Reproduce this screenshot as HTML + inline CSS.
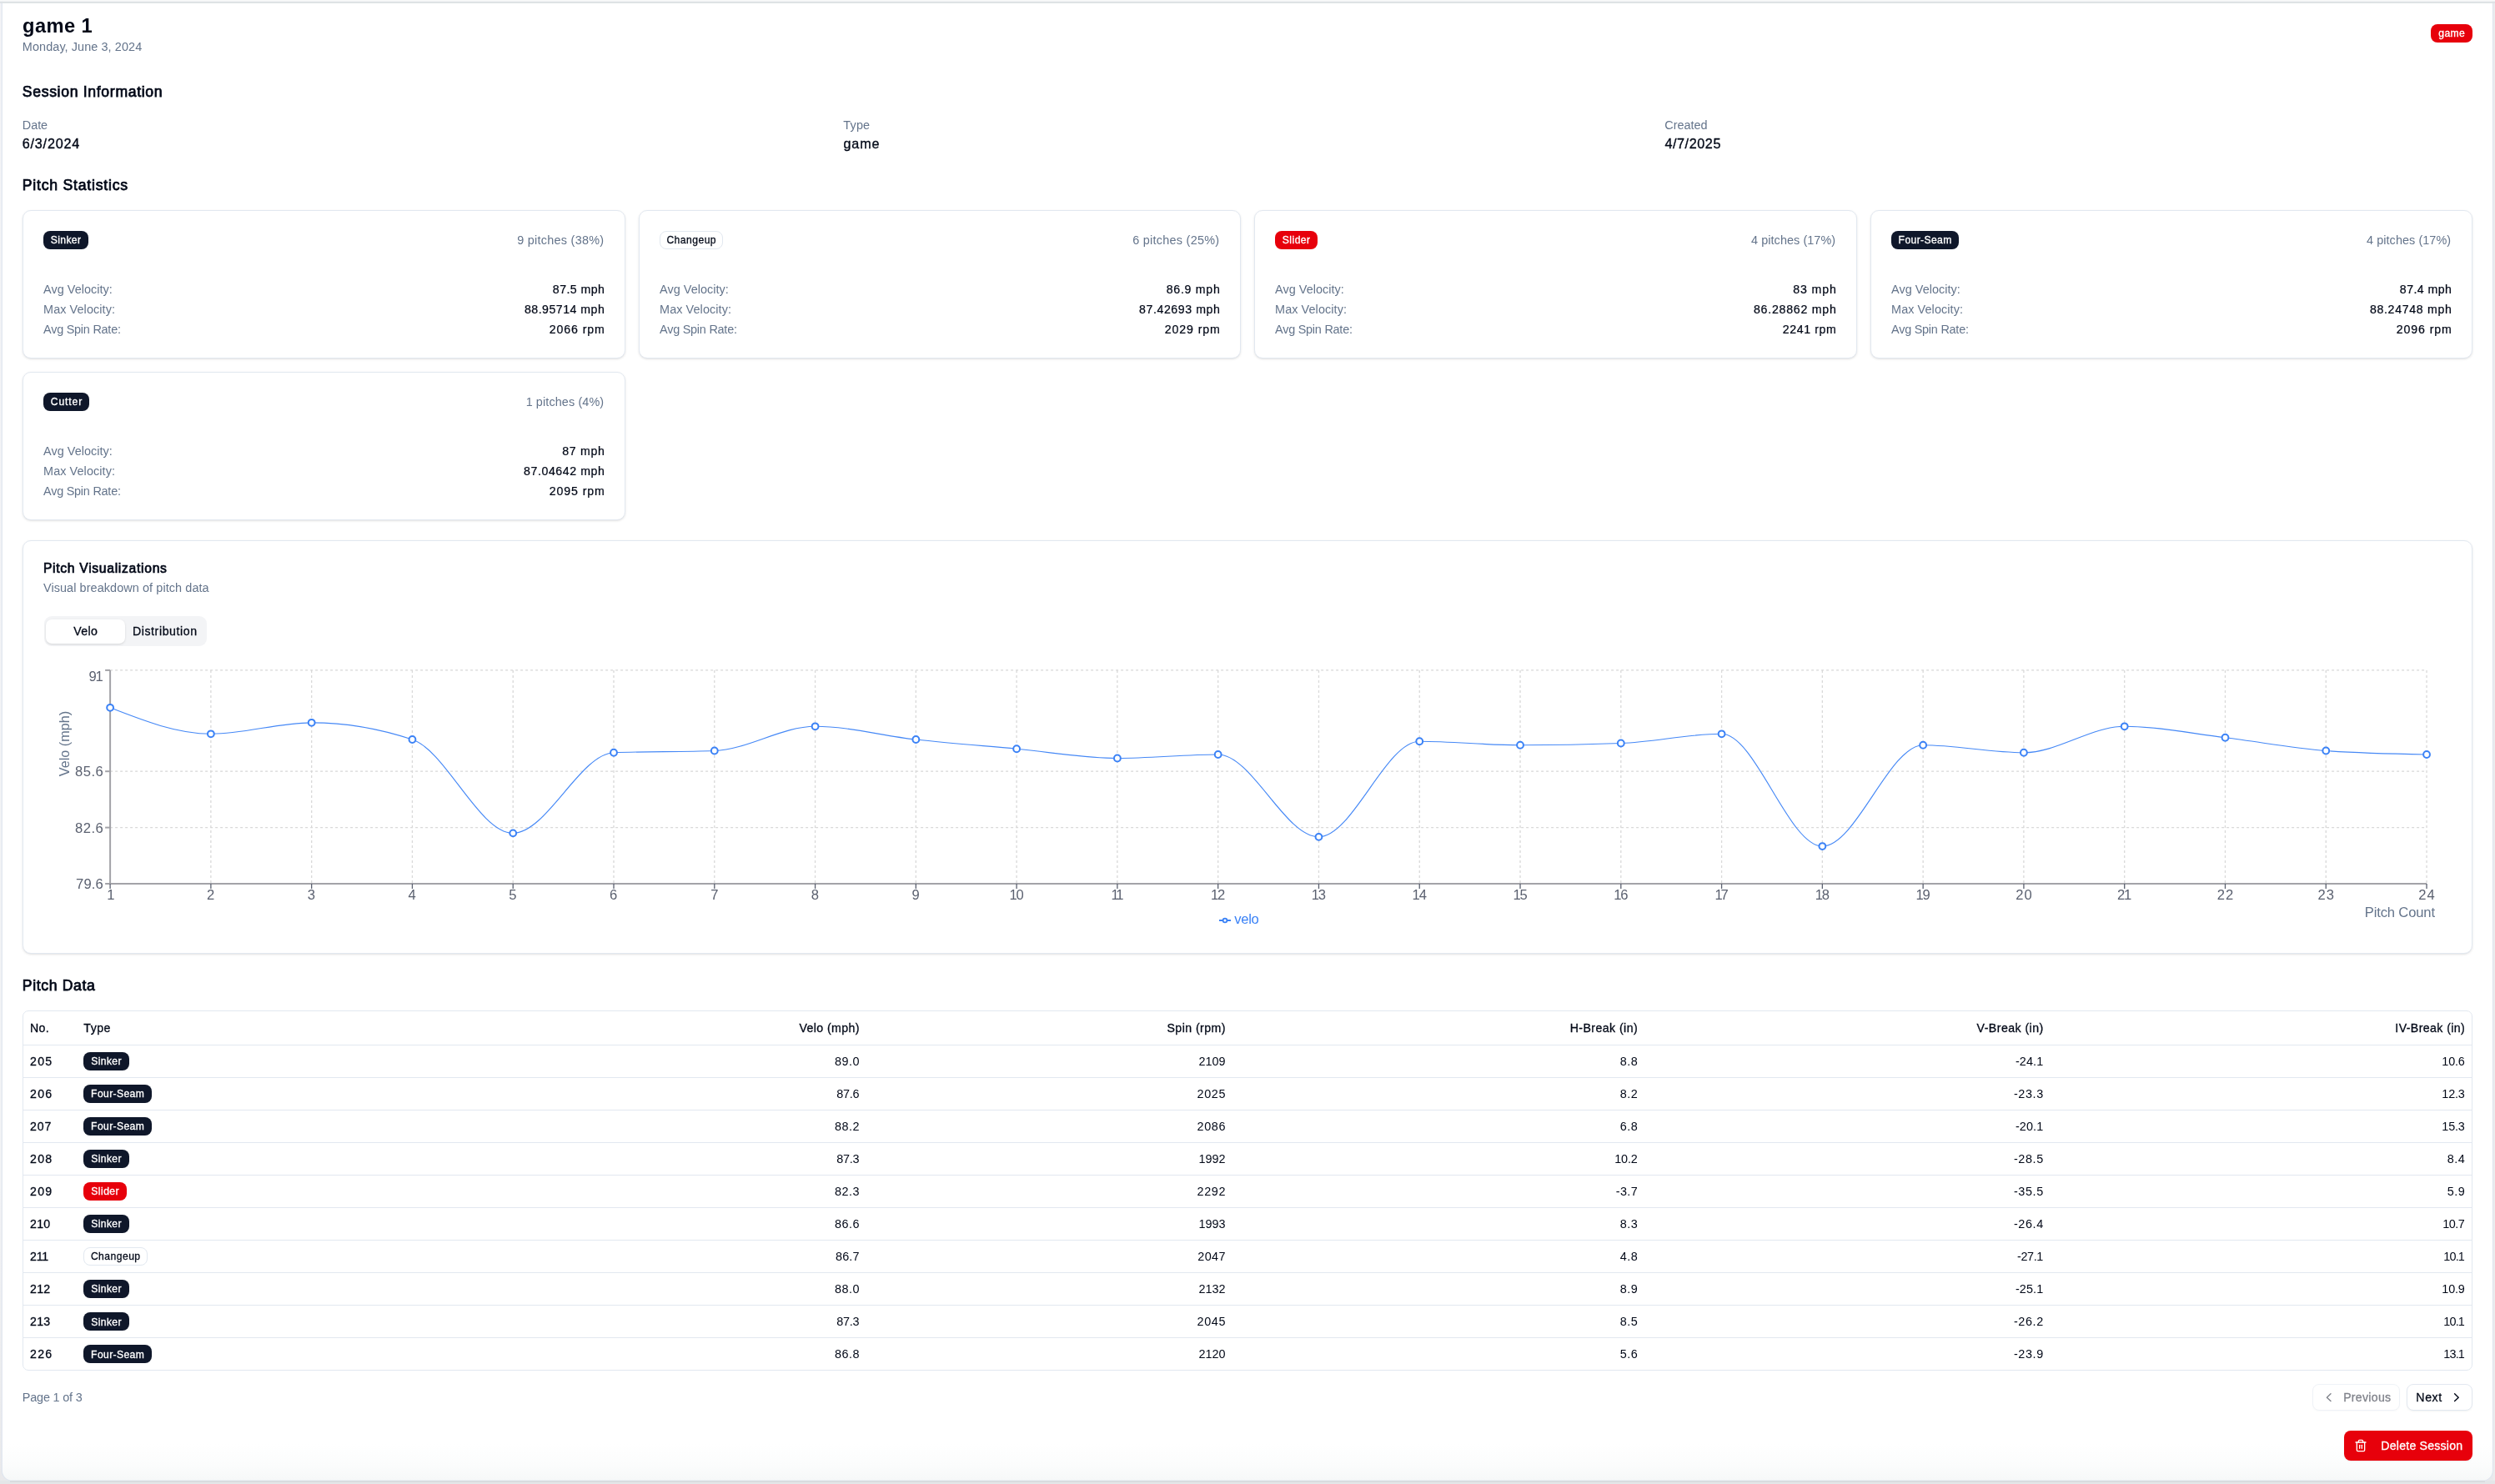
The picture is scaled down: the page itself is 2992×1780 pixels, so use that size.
<!DOCTYPE html>
<html><head><meta charset="utf-8"><title>game 1</title>
<style>
html,body{margin:0;padding:0}
body{width:2992px;height:1780px;overflow:hidden;background:#e9ebec;font-family:"Liberation Sans",sans-serif;position:relative}
#frame{position:absolute;left:0;top:0}
#page{will-change:transform}
#page div{position:absolute}
.t{position:absolute;white-space:pre;display:block}
svg{position:absolute;left:0;top:0}
</style></head><body>
<svg id="frame" width="2992" height="1780" viewBox="0 0 2992 1780"><defs><linearGradient id="pg" x1="0" y1="0" x2="0" y2="1"><stop offset="0" stop-color="#fff"/><stop offset="0.975" stop-color="#fff"/><stop offset="0.99" stop-color="#fbfcfc"/><stop offset="1" stop-color="#f6f8f8"/></linearGradient><linearGradient id="ls" x1="0" y1="0" x2="0" y2="1"><stop offset="0" stop-color="#f4f4f6"/><stop offset="0.8" stop-color="#f3f3f5"/><stop offset="1" stop-color="#e9e9eb"/></linearGradient></defs><rect x="0" y="0" width="2992" height="1780" fill="url(#ls)"/><rect x="2990" y="0" width="2" height="1780" fill="#ececed"/><rect x="0" y="1776" width="2992" height="4" fill="#e4e6e8"/><path d="M2.25,0V1764a12.2,12.2 0 0 0 12.2,12.2H2977.3a12.2,12.2 0 0 0 12.2,-12.2V0Z" fill="url(#pg)" stroke="#e0e6ef" stroke-width="1.3"/><path d="M12,1777H2980" stroke="#d9dcdf" stroke-width="2" fill="none"/><rect x="0" y="0" width="2992" height="1.8" fill="#f8f9f9"/><rect x="0" y="1.8" width="2992" height="2.1" fill="#dde1e4"/></svg>
<div id="page">
<div style="left:2914.90px;top:28.90px;width:50.20px;height:22.00px;background:#e7000b;border-radius:8px"></div>
<div style="left:27.00px;top:252.00px;width:723.00px;height:178.00px;background:#fff;border:1px solid #e2e8f0;box-sizing:border-box;border-radius:10px;box-shadow:0 1px 3px rgba(0,0,0,.10),0 1px 2px -1px rgba(0,0,0,.10);"></div>
<div style="left:52.00px;top:277.00px;width:53.80px;height:21.80px;background:#0f172a;border-radius:8px"></div>
<div style="left:766.00px;top:252.00px;width:722.00px;height:178.00px;background:#fff;border:1px solid #e2e8f0;box-sizing:border-box;border-radius:10px;box-shadow:0 1px 3px rgba(0,0,0,.10),0 1px 2px -1px rgba(0,0,0,.10);"></div>
<div style="left:791.00px;top:277.00px;width:76.00px;height:21.80px;background:#fff;border:1px solid #e2e8f0;box-sizing:border-box;border-radius:8px"></div>
<div style="left:1504.00px;top:252.00px;width:723.00px;height:178.00px;background:#fff;border:1px solid #e2e8f0;box-sizing:border-box;border-radius:10px;box-shadow:0 1px 3px rgba(0,0,0,.10),0 1px 2px -1px rgba(0,0,0,.10);"></div>
<div style="left:1529.00px;top:277.00px;width:50.90px;height:21.80px;background:#e7000b;border-radius:8px"></div>
<div style="left:2243.00px;top:252.00px;width:722.00px;height:178.00px;background:#fff;border:1px solid #e2e8f0;box-sizing:border-box;border-radius:10px;box-shadow:0 1px 3px rgba(0,0,0,.10),0 1px 2px -1px rgba(0,0,0,.10);"></div>
<div style="left:2268.00px;top:277.00px;width:80.90px;height:21.80px;background:#0f172a;border-radius:8px"></div>
<div style="left:27.00px;top:446.00px;width:723.00px;height:178.00px;background:#fff;border:1px solid #e2e8f0;box-sizing:border-box;border-radius:10px;box-shadow:0 1px 3px rgba(0,0,0,.10),0 1px 2px -1px rgba(0,0,0,.10);"></div>
<div style="left:52.00px;top:471.00px;width:55.00px;height:21.80px;background:#0f172a;border-radius:8px"></div>
<div style="left:27.30px;top:648.20px;width:2937.70px;height:495.80px;background:#fff;border:1px solid #e2e8f0;box-sizing:border-box;border-radius:10px;box-shadow:0 1px 3px rgba(0,0,0,.10),0 1px 2px -1px rgba(0,0,0,.10);"></div>
<div style="left:52.50px;top:739.20px;width:195.30px;height:35.50px;background:#f3f4f6;border-radius:9px"></div>
<div style="left:54.60px;top:742.90px;width:95.40px;height:29.30px;background:#fff;border-radius:7px;box-shadow:0 1px 3px rgba(0,0,0,.10),0 1px 2px -1px rgba(0,0,0,.10)"></div>
<div style="left:27.30px;top:1211.80px;width:2937.70px;height:432.10px;background:#fff;border:1px solid #e2e8f0;box-sizing:border-box;border-radius:7px"></div>
<div style="left:28.30px;top:1252.90px;width:2935.70px;height:1.00px;background:#e2e8f0"></div>
<div style="left:28.30px;top:1291.95px;width:2935.70px;height:1.00px;background:#e2e8f0"></div>
<div style="left:28.30px;top:1331.00px;width:2935.70px;height:1.00px;background:#e2e8f0"></div>
<div style="left:28.30px;top:1370.05px;width:2935.70px;height:1.00px;background:#e2e8f0"></div>
<div style="left:28.30px;top:1409.10px;width:2935.70px;height:1.00px;background:#e2e8f0"></div>
<div style="left:28.30px;top:1448.15px;width:2935.70px;height:1.00px;background:#e2e8f0"></div>
<div style="left:28.30px;top:1487.20px;width:2935.70px;height:1.00px;background:#e2e8f0"></div>
<div style="left:28.30px;top:1526.25px;width:2935.70px;height:1.00px;background:#e2e8f0"></div>
<div style="left:28.30px;top:1565.30px;width:2935.70px;height:1.00px;background:#e2e8f0"></div>
<div style="left:28.30px;top:1604.35px;width:2935.70px;height:1.00px;background:#e2e8f0"></div>
<div style="left:100.10px;top:1262.03px;width:54.60px;height:21.70px;background:#0f172a;border-radius:8px"></div>
<div style="left:100.10px;top:1301.08px;width:81.70px;height:21.70px;background:#0f172a;border-radius:8px"></div>
<div style="left:100.10px;top:1340.12px;width:81.70px;height:21.70px;background:#0f172a;border-radius:8px"></div>
<div style="left:100.10px;top:1379.17px;width:54.60px;height:21.70px;background:#0f172a;border-radius:8px"></div>
<div style="left:100.10px;top:1418.22px;width:51.70px;height:21.70px;background:#e7000b;border-radius:8px"></div>
<div style="left:100.10px;top:1457.28px;width:54.60px;height:21.70px;background:#0f172a;border-radius:8px"></div>
<div style="left:100.10px;top:1496.33px;width:76.80px;height:21.70px;background:#fff;border:1px solid #e2e8f0;box-sizing:border-box;border-radius:8px"></div>
<div style="left:100.10px;top:1535.38px;width:54.60px;height:21.70px;background:#0f172a;border-radius:8px"></div>
<div style="left:100.10px;top:1574.42px;width:54.60px;height:21.70px;background:#0f172a;border-radius:8px"></div>
<div style="left:100.10px;top:1613.47px;width:81.70px;height:21.70px;background:#0f172a;border-radius:8px"></div>
<div style="left:2772.80px;top:1660.20px;width:105.20px;height:32.00px;background:#fff;border:1px solid #e2e8f0;box-sizing:border-box;border-radius:8px;opacity:.55;box-shadow:0 1px 2px rgba(0,0,0,.05)"></div>
<div style="left:2886.20px;top:1660.20px;width:78.80px;height:32.00px;background:#fff;border:1px solid #e2e8f0;box-sizing:border-box;border-radius:8px;box-shadow:0 1px 2px rgba(0,0,0,.05)"></div>
<div style="left:2811.00px;top:1716.00px;width:154.00px;height:35.90px;background:#e7000b;border-radius:8px;box-shadow:0 1px 2px rgba(0,0,0,.05)"></div>
<svg width="2992" height="1780" viewBox="0 0 2992 1780"><g stroke="#ccc" stroke-width="1.3" stroke-dasharray="3 3" fill="none" opacity=".75"><line x1="132.1" x2="2910.04" y1="803.90" y2="803.90"/><line x1="132.1" x2="2910.04" y1="925.21" y2="925.21"/><line x1="132.1" x2="2910.04" y1="992.61" y2="992.61"/><line x1="132.10" x2="132.10" y1="803.9" y2="1060.0"/><line x1="252.88" x2="252.88" y1="803.9" y2="1060.0"/><line x1="373.66" x2="373.66" y1="803.9" y2="1060.0"/><line x1="494.44" x2="494.44" y1="803.9" y2="1060.0"/><line x1="615.22" x2="615.22" y1="803.9" y2="1060.0"/><line x1="736.00" x2="736.00" y1="803.9" y2="1060.0"/><line x1="856.78" x2="856.78" y1="803.9" y2="1060.0"/><line x1="977.56" x2="977.56" y1="803.9" y2="1060.0"/><line x1="1098.34" x2="1098.34" y1="803.9" y2="1060.0"/><line x1="1219.12" x2="1219.12" y1="803.9" y2="1060.0"/><line x1="1339.90" x2="1339.90" y1="803.9" y2="1060.0"/><line x1="1460.68" x2="1460.68" y1="803.9" y2="1060.0"/><line x1="1581.46" x2="1581.46" y1="803.9" y2="1060.0"/><line x1="1702.24" x2="1702.24" y1="803.9" y2="1060.0"/><line x1="1823.02" x2="1823.02" y1="803.9" y2="1060.0"/><line x1="1943.80" x2="1943.80" y1="803.9" y2="1060.0"/><line x1="2064.58" x2="2064.58" y1="803.9" y2="1060.0"/><line x1="2185.36" x2="2185.36" y1="803.9" y2="1060.0"/><line x1="2306.14" x2="2306.14" y1="803.9" y2="1060.0"/><line x1="2426.92" x2="2426.92" y1="803.9" y2="1060.0"/><line x1="2547.70" x2="2547.70" y1="803.9" y2="1060.0"/><line x1="2668.48" x2="2668.48" y1="803.9" y2="1060.0"/><line x1="2789.26" x2="2789.26" y1="803.9" y2="1060.0"/><line x1="2910.04" x2="2910.04" y1="803.9" y2="1060.0"/></g><g stroke="#a3a3a8" stroke-width="2" fill="none"><line x1="132.1" x2="132.1" y1="803.9" y2="1060.0"/><line x1="132.1" x2="2910.04" y1="1060.0" y2="1060.0"/><line x1="126.1" x2="132.1" y1="803.90" y2="803.90"/><line x1="126.1" x2="132.1" y1="925.21" y2="925.21"/><line x1="126.1" x2="132.1" y1="992.61" y2="992.61"/><line x1="126.1" x2="132.1" y1="1060.00" y2="1060.00"/></g><g stroke="#5b6170" stroke-width="1.3" fill="none"><line x1="132.10" x2="132.10" y1="1060.0" y2="1066.0"/><line x1="252.88" x2="252.88" y1="1060.0" y2="1066.0"/><line x1="373.66" x2="373.66" y1="1060.0" y2="1066.0"/><line x1="494.44" x2="494.44" y1="1060.0" y2="1066.0"/><line x1="615.22" x2="615.22" y1="1060.0" y2="1066.0"/><line x1="736.00" x2="736.00" y1="1060.0" y2="1066.0"/><line x1="856.78" x2="856.78" y1="1060.0" y2="1066.0"/><line x1="977.56" x2="977.56" y1="1060.0" y2="1066.0"/><line x1="1098.34" x2="1098.34" y1="1060.0" y2="1066.0"/><line x1="1219.12" x2="1219.12" y1="1060.0" y2="1066.0"/><line x1="1339.90" x2="1339.90" y1="1060.0" y2="1066.0"/><line x1="1460.68" x2="1460.68" y1="1060.0" y2="1066.0"/><line x1="1581.46" x2="1581.46" y1="1060.0" y2="1066.0"/><line x1="1702.24" x2="1702.24" y1="1060.0" y2="1066.0"/><line x1="1823.02" x2="1823.02" y1="1060.0" y2="1066.0"/><line x1="1943.80" x2="1943.80" y1="1060.0" y2="1066.0"/><line x1="2064.58" x2="2064.58" y1="1060.0" y2="1066.0"/><line x1="2185.36" x2="2185.36" y1="1060.0" y2="1066.0"/><line x1="2306.14" x2="2306.14" y1="1060.0" y2="1066.0"/><line x1="2426.92" x2="2426.92" y1="1060.0" y2="1066.0"/><line x1="2547.70" x2="2547.70" y1="1060.0" y2="1066.0"/><line x1="2668.48" x2="2668.48" y1="1060.0" y2="1066.0"/><line x1="2789.26" x2="2789.26" y1="1060.0" y2="1066.0"/><line x1="2910.04" x2="2910.04" y1="1060.0" y2="1066.0"/></g><path d="M132.10,848.83C172.36,864.56,212.62,880.28,252.88,880.28C293.14,880.28,333.40,866.80,373.66,866.80C413.92,866.80,454.18,873.54,494.44,887.02C534.70,900.50,574.96,999.34,615.22,999.34C655.48,999.34,695.74,904.24,736.00,902.75C776.26,901.25,816.52,902.00,856.78,900.50C897.04,899.00,937.30,871.29,977.56,871.29C1017.82,871.29,1058.08,882.53,1098.34,887.02C1138.60,891.51,1178.86,894.51,1219.12,898.25C1259.38,902.00,1299.64,909.49,1339.90,909.49C1380.16,909.49,1420.42,904.99,1460.68,904.99C1500.94,904.99,1541.20,1003.84,1581.46,1003.84C1621.72,1003.84,1661.98,889.27,1702.24,889.27C1742.50,889.27,1782.76,893.76,1823.02,893.76C1863.28,893.76,1903.54,893.01,1943.80,891.51C1984.06,890.02,2024.32,880.28,2064.58,880.28C2104.84,880.28,2145.10,1015.07,2185.36,1015.07C2225.62,1015.07,2265.88,893.76,2306.14,893.76C2346.40,893.76,2386.66,902.75,2426.92,902.75C2467.18,902.75,2507.44,871.29,2547.70,871.29C2587.96,871.29,2628.22,879.91,2668.48,884.77C2708.74,889.64,2749.00,897.50,2789.26,900.50C2829.52,903.49,2869.78,904.24,2910.04,904.99" fill="none" stroke="#3b82f6" stroke-width="1.15" opacity=".95"/><g fill="#fff" stroke="#3b82f6" stroke-width="2"><circle cx="132.10" cy="848.83" r="3.9"/><circle cx="252.88" cy="880.28" r="3.9"/><circle cx="373.66" cy="866.80" r="3.9"/><circle cx="494.44" cy="887.02" r="3.9"/><circle cx="615.22" cy="999.34" r="3.9"/><circle cx="736.00" cy="902.75" r="3.9"/><circle cx="856.78" cy="900.50" r="3.9"/><circle cx="977.56" cy="871.29" r="3.9"/><circle cx="1098.34" cy="887.02" r="3.9"/><circle cx="1219.12" cy="898.25" r="3.9"/><circle cx="1339.90" cy="909.49" r="3.9"/><circle cx="1460.68" cy="904.99" r="3.9"/><circle cx="1581.46" cy="1003.84" r="3.9"/><circle cx="1702.24" cy="889.27" r="3.9"/><circle cx="1823.02" cy="893.76" r="3.9"/><circle cx="1943.80" cy="891.51" r="3.9"/><circle cx="2064.58" cy="880.28" r="3.9"/><circle cx="2185.36" cy="1015.07" r="3.9"/><circle cx="2306.14" cy="893.76" r="3.9"/><circle cx="2426.92" cy="902.75" r="3.9"/><circle cx="2547.70" cy="871.29" r="3.9"/><circle cx="2668.48" cy="884.77" r="3.9"/><circle cx="2789.26" cy="900.50" r="3.9"/><circle cx="2910.04" cy="904.99" r="3.9"/></g><g stroke="#3b82f6" stroke-width="2" fill="none"><path d="M1462,1104h4.5M1471.5,1104h4.5"/><circle cx="1469" cy="1104" r="2.4" stroke-width="1.8"/></g><path d="M2795,1671.8l-4.6,4.4l4.6,4.4" fill="none" stroke="#80838b" stroke-width="1.4" stroke-linecap="round" stroke-linejoin="round"/><path d="M2943.6,1671.8l4.6,4.4l-4.6,4.4" fill="none" stroke="#020817" stroke-width="1.4" stroke-linecap="round" stroke-linejoin="round"/><g transform="translate(2823,1726) scale(0.6667)" fill="none" stroke="#fff" stroke-width="2" stroke-linecap="round" stroke-linejoin="round"><path d="M3 6h18"/><path d="M19 6v14c0 1-1 2-2 2H7c-1 0-2-1-2-2V6"/><path d="M8 6V4c0-1 1-2 2-2h4c1 0 2 1 2 2v2"/><line x1="10" x2="10" y1="11" y2="17"/><line x1="14" x2="14" y1="11" y2="17"/></g></svg>
<div class="t" style="left:82.4px;top:892.0px;font-size:16.2px;color:#64748b;transform:translate(-50%,-50%) rotate(-90deg);transform-origin:center;line-height:1;margin-left:-5.5px">Velo (mph)</div>
<span class="t" style="left:27.11px;top:17.60px;font-size:23.69px;line-height:26px;color:#020817;font-weight:bold;letter-spacing:0.387px;">game 1</span>
<span class="t" style="left:26.86px;top:48.00px;font-size:14.42px;line-height:16px;color:#64748b;letter-spacing:0.094px;">Monday, June 3, 2024</span>
<span class="t" style="left:2924.25px;top:33.00px;font-size:12.12px;line-height:14px;color:#fff;letter-spacing:0.437px;-webkit-text-stroke:0.32px #fff;">game</span>
<span class="t" style="left:26.74px;top:99.90px;font-size:17.64px;line-height:20px;color:#020817;letter-spacing:0.675px;-webkit-text-stroke:0.75px #020817;">Session Information</span>
<span class="t" style="left:26.86px;top:142.00px;font-size:14.42px;line-height:16px;color:#64748b;letter-spacing:-0.052px;">Date</span>
<span class="t" style="left:1011.26px;top:142.00px;font-size:14.42px;line-height:16px;color:#64748b;letter-spacing:0.216px;">Type</span>
<span class="t" style="left:1996.26px;top:142.00px;font-size:14.42px;line-height:16px;color:#64748b;letter-spacing:0.019px;">Created</span>
<span class="t" style="left:26.79px;top:162.60px;font-size:16.16px;line-height:18px;color:#020817;letter-spacing:0.789px;-webkit-text-stroke:0.35px #020817;">6/3/2024</span>
<span class="t" style="left:1011.59px;top:162.60px;font-size:16.16px;line-height:18px;color:#020817;letter-spacing:0.797px;-webkit-text-stroke:0.35px #020817;">game</span>
<span class="t" style="left:1996.39px;top:162.60px;font-size:16.16px;line-height:18px;color:#020817;letter-spacing:0.589px;-webkit-text-stroke:0.35px #020817;">4/7/2025</span>
<span class="t" style="left:26.74px;top:211.90px;font-size:17.64px;line-height:20px;color:#020817;letter-spacing:0.781px;-webkit-text-stroke:0.75px #020817;">Pitch Statistics</span>
<span class="t" style="left:60.85px;top:281.10px;font-size:12.12px;line-height:14px;color:#fff;letter-spacing:0.356px;-webkit-text-stroke:0.32px #fff;">Sinker</span>
<span class="t" style="left:620.15px;top:280.00px;font-size:14.42px;line-height:16px;color:#64748b;letter-spacing:0.279px;">9 pitches (38%)</span>
<span class="t" style="left:52.06px;top:338.90px;font-size:14.42px;line-height:16px;color:#64748b;letter-spacing:0.047px;">Avg Velocity:</span>
<span class="t" style="left:662.86px;top:338.90px;font-size:14.14px;line-height:16px;color:#020817;letter-spacing:0.437px;-webkit-text-stroke:0.24px #020817;">87.5 mph</span>
<span class="t" style="left:52.06px;top:362.90px;font-size:14.42px;line-height:16px;color:#64748b;letter-spacing:0.084px;">Max Velocity:</span>
<span class="t" style="left:628.98px;top:362.90px;font-size:14.14px;line-height:16px;color:#020817;letter-spacing:0.502px;-webkit-text-stroke:0.24px #020817;">88.95714 mph</span>
<span class="t" style="left:52.06px;top:386.90px;font-size:14.42px;line-height:16px;color:#64748b;letter-spacing:-0.228px;">Avg Spin Rate:</span>
<span class="t" style="left:658.77px;top:386.90px;font-size:14.14px;line-height:16px;color:#020817;letter-spacing:0.910px;-webkit-text-stroke:0.24px #020817;">2066 rpm</span>
<span class="t" style="left:799.40px;top:281.10px;font-size:12.12px;line-height:14px;color:#020817;letter-spacing:0.474px;-webkit-text-stroke:0.28px #020817;">Changeup</span>
<span class="t" style="left:1358.15px;top:280.00px;font-size:14.42px;line-height:16px;color:#64748b;letter-spacing:0.279px;">6 pitches (25%)</span>
<span class="t" style="left:791.06px;top:338.90px;font-size:14.42px;line-height:16px;color:#64748b;letter-spacing:0.047px;">Avg Velocity:</span>
<span class="t" style="left:1398.76px;top:338.90px;font-size:14.14px;line-height:16px;color:#020817;letter-spacing:0.737px;-webkit-text-stroke:0.24px #020817;">86.9 mph</span>
<span class="t" style="left:791.06px;top:362.90px;font-size:14.42px;line-height:16px;color:#64748b;letter-spacing:0.084px;">Max Velocity:</span>
<span class="t" style="left:1366.09px;top:362.90px;font-size:14.14px;line-height:16px;color:#020817;letter-spacing:0.583px;-webkit-text-stroke:0.24px #020817;">87.42693 mph</span>
<span class="t" style="left:791.06px;top:386.90px;font-size:14.42px;line-height:16px;color:#64748b;letter-spacing:-0.228px;">Avg Spin Rate:</span>
<span class="t" style="left:1396.77px;top:386.90px;font-size:14.14px;line-height:16px;color:#020817;letter-spacing:0.910px;-webkit-text-stroke:0.24px #020817;">2029 rpm</span>
<span class="t" style="left:1537.85px;top:281.10px;font-size:12.12px;line-height:14px;color:#fff;letter-spacing:0.448px;-webkit-text-stroke:0.32px #fff;">Slider</span>
<span class="t" style="left:2100.04px;top:280.00px;font-size:14.42px;line-height:16px;color:#64748b;letter-spacing:0.072px;">4 pitches (17%)</span>
<span class="t" style="left:1529.06px;top:338.90px;font-size:14.42px;line-height:16px;color:#64748b;letter-spacing:0.047px;">Avg Velocity:</span>
<span class="t" style="left:2150.36px;top:338.90px;font-size:14.14px;line-height:16px;color:#020817;letter-spacing:0.869px;-webkit-text-stroke:0.24px #020817;">83 mph</span>
<span class="t" style="left:1529.06px;top:362.90px;font-size:14.42px;line-height:16px;color:#64748b;letter-spacing:0.084px;">Max Velocity:</span>
<span class="t" style="left:2102.99px;top:362.90px;font-size:14.14px;line-height:16px;color:#020817;letter-spacing:0.774px;-webkit-text-stroke:0.24px #020817;">86.28862 mph</span>
<span class="t" style="left:1529.06px;top:386.90px;font-size:14.42px;line-height:16px;color:#64748b;letter-spacing:-0.228px;">Avg Spin Rate:</span>
<span class="t" style="left:2137.87px;top:386.90px;font-size:14.14px;line-height:16px;color:#020817;letter-spacing:0.610px;-webkit-text-stroke:0.24px #020817;">2241 rpm</span>
<span class="t" style="left:2276.60px;top:281.10px;font-size:12.12px;line-height:14px;color:#fff;letter-spacing:0.391px;-webkit-text-stroke:0.32px #fff;">Four-Seam</span>
<span class="t" style="left:2838.04px;top:280.00px;font-size:14.42px;line-height:16px;color:#64748b;letter-spacing:0.072px;">4 pitches (17%)</span>
<span class="t" style="left:2268.06px;top:338.90px;font-size:14.42px;line-height:16px;color:#64748b;letter-spacing:0.047px;">Avg Velocity:</span>
<span class="t" style="left:2877.86px;top:338.90px;font-size:14.14px;line-height:16px;color:#020817;letter-spacing:0.437px;-webkit-text-stroke:0.24px #020817;">87.4 mph</span>
<span class="t" style="left:2268.06px;top:362.90px;font-size:14.42px;line-height:16px;color:#64748b;letter-spacing:0.084px;">Max Velocity:</span>
<span class="t" style="left:2841.88px;top:362.90px;font-size:14.14px;line-height:16px;color:#020817;letter-spacing:0.693px;-webkit-text-stroke:0.24px #020817;">88.24748 mph</span>
<span class="t" style="left:2268.06px;top:386.90px;font-size:14.42px;line-height:16px;color:#64748b;letter-spacing:-0.228px;">Avg Spin Rate:</span>
<span class="t" style="left:2873.77px;top:386.90px;font-size:14.14px;line-height:16px;color:#020817;letter-spacing:0.910px;-webkit-text-stroke:0.24px #020817;">2096 rpm</span>
<span class="t" style="left:60.75px;top:475.10px;font-size:12.12px;line-height:14px;color:#fff;letter-spacing:0.905px;-webkit-text-stroke:0.32px #fff;">Cutter</span>
<span class="t" style="left:630.65px;top:474.00px;font-size:14.42px;line-height:16px;color:#64748b;letter-spacing:0.108px;">1 pitches (4%)</span>
<span class="t" style="left:52.06px;top:532.90px;font-size:14.42px;line-height:16px;color:#64748b;letter-spacing:0.047px;">Avg Velocity:</span>
<span class="t" style="left:674.26px;top:532.90px;font-size:14.14px;line-height:16px;color:#020817;letter-spacing:0.689px;-webkit-text-stroke:0.24px #020817;">87 mph</span>
<span class="t" style="left:52.06px;top:556.90px;font-size:14.42px;line-height:16px;color:#64748b;letter-spacing:0.084px;">Max Velocity:</span>
<span class="t" style="left:628.09px;top:556.90px;font-size:14.14px;line-height:16px;color:#020817;letter-spacing:0.583px;-webkit-text-stroke:0.24px #020817;">87.04642 mph</span>
<span class="t" style="left:52.06px;top:580.90px;font-size:14.42px;line-height:16px;color:#64748b;letter-spacing:-0.228px;">Avg Spin Rate:</span>
<span class="t" style="left:658.77px;top:580.90px;font-size:14.14px;line-height:16px;color:#020817;letter-spacing:0.910px;-webkit-text-stroke:0.24px #020817;">2095 rpm</span>
<span class="t" style="left:51.91px;top:673.00px;font-size:15.68px;line-height:17px;color:#020817;letter-spacing:0.697px;-webkit-text-stroke:0.7px #020817;">Pitch Visualizations</span>
<span class="t" style="left:51.96px;top:696.80px;font-size:14.42px;line-height:16px;color:#64748b;letter-spacing:0.094px;">Visual breakdown of pitch data</span>
<span class="t" style="left:88.37px;top:748.70px;font-size:14.14px;line-height:16px;color:#020817;letter-spacing:0.354px;-webkit-text-stroke:0.3px #020817;">Velo</span>
<span class="t" style="left:158.97px;top:748.70px;font-size:14.14px;line-height:16px;color:#020817;letter-spacing:0.582px;-webkit-text-stroke:0.3px #020817;">Distribution</span>
<span class="t" style="left:106.56px;top:802.00px;font-size:16.60px;line-height:19px;color:#5b6170;letter-spacing:-1.208px;">91</span>
<span class="t" style="left:90.10px;top:916.21px;font-size:16.60px;line-height:19px;color:#5b6170;letter-spacing:0.476px;">85.6</span>
<span class="t" style="left:90.10px;top:983.61px;font-size:16.60px;line-height:19px;color:#5b6170;letter-spacing:0.476px;">82.6</span>
<span class="t" style="left:91.12px;top:1051.00px;font-size:16.60px;line-height:19px;color:#5b6170;letter-spacing:0.135px;">79.6</span>
<span class="t" style="left:128.33px;top:1064.00px;font-size:16.60px;line-height:19px;color:#5b6170;">1</span>
<span class="t" style="left:247.96px;top:1064.00px;font-size:16.60px;line-height:19px;color:#5b6170;">2</span>
<span class="t" style="left:368.74px;top:1064.00px;font-size:16.60px;line-height:19px;color:#5b6170;">3</span>
<span class="t" style="left:489.52px;top:1064.00px;font-size:16.60px;line-height:19px;color:#5b6170;">4</span>
<span class="t" style="left:610.30px;top:1064.00px;font-size:16.60px;line-height:19px;color:#5b6170;">5</span>
<span class="t" style="left:731.08px;top:1064.00px;font-size:16.60px;line-height:19px;color:#5b6170;">6</span>
<span class="t" style="left:852.37px;top:1064.00px;font-size:16.60px;line-height:19px;color:#5b6170;">7</span>
<span class="t" style="left:972.64px;top:1064.00px;font-size:16.60px;line-height:19px;color:#5b6170;">8</span>
<span class="t" style="left:1093.42px;top:1064.00px;font-size:16.60px;line-height:19px;color:#5b6170;">9</span>
<span class="t" style="left:1210.49px;top:1064.00px;font-size:16.60px;line-height:19px;color:#5b6170;letter-spacing:-1.208px;">10</span>
<span class="t" style="left:1332.41px;top:1064.00px;font-size:16.60px;line-height:19px;color:#5b6170;letter-spacing:-2.261px;">11</span>
<span class="t" style="left:1452.05px;top:1064.00px;font-size:16.60px;line-height:19px;color:#5b6170;letter-spacing:-1.208px;">12</span>
<span class="t" style="left:1572.83px;top:1064.00px;font-size:16.60px;line-height:19px;color:#5b6170;letter-spacing:-1.208px;">13</span>
<span class="t" style="left:1693.61px;top:1064.00px;font-size:16.60px;line-height:19px;color:#5b6170;letter-spacing:-1.208px;">14</span>
<span class="t" style="left:1814.39px;top:1064.00px;font-size:16.60px;line-height:19px;color:#5b6170;letter-spacing:-1.208px;">15</span>
<span class="t" style="left:1935.17px;top:1064.00px;font-size:16.60px;line-height:19px;color:#5b6170;letter-spacing:-1.208px;">16</span>
<span class="t" style="left:2056.46px;top:1064.00px;font-size:16.60px;line-height:19px;color:#5b6170;letter-spacing:-2.232px;">17</span>
<span class="t" style="left:2176.73px;top:1064.00px;font-size:16.60px;line-height:19px;color:#5b6170;letter-spacing:-1.208px;">18</span>
<span class="t" style="left:2297.51px;top:1064.00px;font-size:16.60px;line-height:19px;color:#5b6170;letter-spacing:-1.208px;">19</span>
<span class="t" style="left:2417.15px;top:1064.00px;font-size:16.60px;line-height:19px;color:#5b6170;letter-spacing:1.080px;">20</span>
<span class="t" style="left:2539.07px;top:1064.00px;font-size:16.60px;line-height:19px;color:#5b6170;letter-spacing:-1.208px;">21</span>
<span class="t" style="left:2658.71px;top:1064.00px;font-size:16.60px;line-height:19px;color:#5b6170;letter-spacing:1.080px;">22</span>
<span class="t" style="left:2779.49px;top:1064.00px;font-size:16.60px;line-height:19px;color:#5b6170;letter-spacing:1.080px;">23</span>
<span class="t" style="left:2900.27px;top:1064.00px;font-size:16.60px;line-height:19px;color:#5b6170;letter-spacing:1.080px;">24</span>
<span class="t" style="left:2835.78px;top:1084.80px;font-size:16.60px;line-height:19px;color:#64748b;letter-spacing:-0.154px;">Pitch Count</span>
<span class="t" style="left:1480.18px;top:1092.80px;font-size:16.60px;line-height:19px;color:#3b82f6;letter-spacing:-0.269px;">velo</span>
<span class="t" style="left:26.84px;top:1172.20px;font-size:17.64px;line-height:20px;color:#020817;letter-spacing:0.634px;-webkit-text-stroke:0.75px #020817;">Pitch Data</span>
<span class="t" style="left:36.07px;top:1224.90px;font-size:14.14px;line-height:16px;color:#020817;letter-spacing:0.338px;-webkit-text-stroke:0.3px #020817;">No.</span>
<span class="t" style="left:100.37px;top:1224.90px;font-size:14.14px;line-height:16px;color:#020817;letter-spacing:0.479px;-webkit-text-stroke:0.3px #020817;">Type</span>
<span class="t" style="left:958.47px;top:1224.90px;font-size:14.14px;line-height:16px;color:#020817;letter-spacing:0.416px;-webkit-text-stroke:0.3px #020817;">Velo (mph)</span>
<span class="t" style="left:1399.47px;top:1224.90px;font-size:14.14px;line-height:16px;color:#020817;letter-spacing:0.458px;-webkit-text-stroke:0.3px #020817;">Spin (rpm)</span>
<span class="t" style="left:1882.67px;top:1224.90px;font-size:14.14px;line-height:16px;color:#020817;letter-spacing:0.447px;-webkit-text-stroke:0.3px #020817;">H-Break (in)</span>
<span class="t" style="left:2370.57px;top:1224.90px;font-size:14.14px;line-height:16px;color:#020817;letter-spacing:0.462px;-webkit-text-stroke:0.3px #020817;">V-Break (in)</span>
<span class="t" style="left:2872.37px;top:1224.90px;font-size:14.14px;line-height:16px;color:#020817;letter-spacing:0.413px;-webkit-text-stroke:0.3px #020817;">IV-Break (in)</span>
<span class="t" style="left:36.07px;top:1264.73px;font-size:14.14px;line-height:16px;color:#020817;letter-spacing:1.292px;-webkit-text-stroke:0.3px #020817;">205</span>
<span class="t" style="left:109.35px;top:1266.12px;font-size:12.12px;line-height:14px;color:#fff;letter-spacing:0.356px;-webkit-text-stroke:0.32px #fff;">Sinker</span>
<span class="t" style="left:1001.04px;top:1264.73px;font-size:14.42px;line-height:16px;color:#020817;letter-spacing:0.485px;">89.0</span>
<span class="t" style="left:1437.45px;top:1264.73px;font-size:14.42px;line-height:16px;color:#020817;letter-spacing:0.010px;">2109</span>
<span class="t" style="left:1942.74px;top:1264.73px;font-size:14.42px;line-height:16px;color:#020817;letter-spacing:0.486px;">8.8</span>
<span class="t" style="left:2416.95px;top:1264.73px;font-size:14.42px;line-height:16px;color:#020817;letter-spacing:0.113px;">-24.1</span>
<span class="t" style="left:2928.34px;top:1264.73px;font-size:14.42px;line-height:16px;color:#020817;letter-spacing:-0.182px;">10.6</span>
<span class="t" style="left:36.07px;top:1303.78px;font-size:14.14px;line-height:16px;color:#020817;letter-spacing:1.292px;-webkit-text-stroke:0.3px #020817;">206</span>
<span class="t" style="left:109.10px;top:1305.17px;font-size:12.12px;line-height:14px;color:#fff;letter-spacing:0.391px;-webkit-text-stroke:0.32px #fff;">Four-Seam</span>
<span class="t" style="left:1003.14px;top:1303.78px;font-size:14.42px;line-height:16px;color:#020817;letter-spacing:-0.215px;">87.6</span>
<span class="t" style="left:1435.45px;top:1303.78px;font-size:14.42px;line-height:16px;color:#020817;letter-spacing:0.677px;">2025</span>
<span class="t" style="left:1942.74px;top:1303.78px;font-size:14.42px;line-height:16px;color:#020817;letter-spacing:0.486px;">8.2</span>
<span class="t" style="left:2414.94px;top:1303.78px;font-size:14.42px;line-height:16px;color:#020817;letter-spacing:0.613px;">-23.3</span>
<span class="t" style="left:2928.34px;top:1303.78px;font-size:14.42px;line-height:16px;color:#020817;letter-spacing:-0.182px;">12.3</span>
<span class="t" style="left:36.07px;top:1342.83px;font-size:14.14px;line-height:16px;color:#020817;letter-spacing:0.844px;-webkit-text-stroke:0.3px #020817;">207</span>
<span class="t" style="left:109.10px;top:1344.22px;font-size:12.12px;line-height:14px;color:#fff;letter-spacing:0.391px;-webkit-text-stroke:0.32px #fff;">Four-Seam</span>
<span class="t" style="left:1001.04px;top:1342.83px;font-size:14.42px;line-height:16px;color:#020817;letter-spacing:0.485px;">88.2</span>
<span class="t" style="left:1435.45px;top:1342.83px;font-size:14.42px;line-height:16px;color:#020817;letter-spacing:0.677px;">2086</span>
<span class="t" style="left:1942.74px;top:1342.83px;font-size:14.42px;line-height:16px;color:#020817;letter-spacing:0.486px;">6.8</span>
<span class="t" style="left:2416.95px;top:1342.83px;font-size:14.42px;line-height:16px;color:#020817;letter-spacing:0.113px;">-20.1</span>
<span class="t" style="left:2928.34px;top:1342.83px;font-size:14.42px;line-height:16px;color:#020817;letter-spacing:-0.182px;">15.3</span>
<span class="t" style="left:36.07px;top:1381.88px;font-size:14.14px;line-height:16px;color:#020817;letter-spacing:1.292px;-webkit-text-stroke:0.3px #020817;">208</span>
<span class="t" style="left:109.35px;top:1383.27px;font-size:12.12px;line-height:14px;color:#fff;letter-spacing:0.356px;-webkit-text-stroke:0.32px #fff;">Sinker</span>
<span class="t" style="left:1003.14px;top:1381.88px;font-size:14.42px;line-height:16px;color:#020817;letter-spacing:-0.215px;">87.3</span>
<span class="t" style="left:1437.45px;top:1381.88px;font-size:14.42px;line-height:16px;color:#020817;letter-spacing:0.010px;">1992</span>
<span class="t" style="left:1936.24px;top:1381.88px;font-size:14.42px;line-height:16px;color:#020817;letter-spacing:-0.182px;">10.2</span>
<span class="t" style="left:2414.94px;top:1381.88px;font-size:14.42px;line-height:16px;color:#020817;letter-spacing:0.613px;">-28.5</span>
<span class="t" style="left:2934.84px;top:1381.88px;font-size:14.42px;line-height:16px;color:#020817;letter-spacing:0.486px;">8.4</span>
<span class="t" style="left:36.07px;top:1420.92px;font-size:14.14px;line-height:16px;color:#020817;letter-spacing:1.292px;-webkit-text-stroke:0.3px #020817;">209</span>
<span class="t" style="left:109.35px;top:1422.32px;font-size:12.12px;line-height:14px;color:#fff;letter-spacing:0.448px;-webkit-text-stroke:0.32px #fff;">Slider</span>
<span class="t" style="left:1001.04px;top:1420.92px;font-size:14.42px;line-height:16px;color:#020817;letter-spacing:0.485px;">82.3</span>
<span class="t" style="left:1435.45px;top:1420.92px;font-size:14.42px;line-height:16px;color:#020817;letter-spacing:0.677px;">2292</span>
<span class="t" style="left:1937.84px;top:1420.92px;font-size:14.42px;line-height:16px;color:#020817;letter-spacing:0.358px;">-3.7</span>
<span class="t" style="left:2414.94px;top:1420.92px;font-size:14.42px;line-height:16px;color:#020817;letter-spacing:0.613px;">-35.5</span>
<span class="t" style="left:2934.84px;top:1420.92px;font-size:14.42px;line-height:16px;color:#020817;letter-spacing:0.486px;">5.9</span>
<span class="t" style="left:36.07px;top:1459.98px;font-size:14.14px;line-height:16px;color:#020817;letter-spacing:0.242px;-webkit-text-stroke:0.3px #020817;">210</span>
<span class="t" style="left:109.35px;top:1461.38px;font-size:12.12px;line-height:14px;color:#fff;letter-spacing:0.356px;-webkit-text-stroke:0.32px #fff;">Sinker</span>
<span class="t" style="left:1001.04px;top:1459.98px;font-size:14.42px;line-height:16px;color:#020817;letter-spacing:0.485px;">86.6</span>
<span class="t" style="left:1437.45px;top:1459.98px;font-size:14.42px;line-height:16px;color:#020817;letter-spacing:0.010px;">1993</span>
<span class="t" style="left:1942.74px;top:1459.98px;font-size:14.42px;line-height:16px;color:#020817;letter-spacing:0.486px;">8.3</span>
<span class="t" style="left:2414.94px;top:1459.98px;font-size:14.42px;line-height:16px;color:#020817;letter-spacing:0.613px;">-26.4</span>
<span class="t" style="left:2929.24px;top:1459.98px;font-size:14.42px;line-height:16px;color:#020817;letter-spacing:-0.481px;">10.7</span>
<span class="t" style="left:36.07px;top:1499.03px;font-size:14.14px;line-height:16px;color:#020817;letter-spacing:-0.284px;-webkit-text-stroke:0.3px #020817;">211</span>
<span class="t" style="left:108.90px;top:1500.42px;font-size:12.12px;line-height:14px;color:#020817;letter-spacing:0.474px;-webkit-text-stroke:0.28px #020817;">Changeup</span>
<span class="t" style="left:1001.94px;top:1499.03px;font-size:14.42px;line-height:16px;color:#020817;letter-spacing:0.186px;">86.7</span>
<span class="t" style="left:1436.34px;top:1499.03px;font-size:14.42px;line-height:16px;color:#020817;letter-spacing:0.378px;">2047</span>
<span class="t" style="left:1942.74px;top:1499.03px;font-size:14.42px;line-height:16px;color:#020817;letter-spacing:0.486px;">4.8</span>
<span class="t" style="left:2419.05px;top:1499.03px;font-size:14.42px;line-height:16px;color:#020817;letter-spacing:-0.412px;">-27.1</span>
<span class="t" style="left:2930.34px;top:1499.03px;font-size:14.42px;line-height:16px;color:#020817;letter-spacing:-0.850px;">10.1</span>
<span class="t" style="left:36.07px;top:1538.08px;font-size:14.14px;line-height:16px;color:#020817;letter-spacing:0.242px;-webkit-text-stroke:0.3px #020817;">212</span>
<span class="t" style="left:109.35px;top:1539.47px;font-size:12.12px;line-height:14px;color:#fff;letter-spacing:0.356px;-webkit-text-stroke:0.32px #fff;">Sinker</span>
<span class="t" style="left:1001.04px;top:1538.08px;font-size:14.42px;line-height:16px;color:#020817;letter-spacing:0.485px;">88.0</span>
<span class="t" style="left:1437.45px;top:1538.08px;font-size:14.42px;line-height:16px;color:#020817;letter-spacing:0.010px;">2132</span>
<span class="t" style="left:1942.74px;top:1538.08px;font-size:14.42px;line-height:16px;color:#020817;letter-spacing:0.486px;">8.9</span>
<span class="t" style="left:2416.95px;top:1538.08px;font-size:14.42px;line-height:16px;color:#020817;letter-spacing:0.113px;">-25.1</span>
<span class="t" style="left:2928.34px;top:1538.08px;font-size:14.42px;line-height:16px;color:#020817;letter-spacing:-0.182px;">10.9</span>
<span class="t" style="left:36.07px;top:1577.12px;font-size:14.14px;line-height:16px;color:#020817;letter-spacing:0.242px;-webkit-text-stroke:0.3px #020817;">213</span>
<span class="t" style="left:109.35px;top:1578.52px;font-size:12.12px;line-height:14px;color:#fff;letter-spacing:0.356px;-webkit-text-stroke:0.32px #fff;">Sinker</span>
<span class="t" style="left:1003.14px;top:1577.12px;font-size:14.42px;line-height:16px;color:#020817;letter-spacing:-0.215px;">87.3</span>
<span class="t" style="left:1435.45px;top:1577.12px;font-size:14.42px;line-height:16px;color:#020817;letter-spacing:0.677px;">2045</span>
<span class="t" style="left:1942.74px;top:1577.12px;font-size:14.42px;line-height:16px;color:#020817;letter-spacing:0.486px;">8.5</span>
<span class="t" style="left:2414.94px;top:1577.12px;font-size:14.42px;line-height:16px;color:#020817;letter-spacing:0.613px;">-26.2</span>
<span class="t" style="left:2930.34px;top:1577.12px;font-size:14.42px;line-height:16px;color:#020817;letter-spacing:-0.850px;">10.1</span>
<span class="t" style="left:36.07px;top:1616.17px;font-size:14.14px;line-height:16px;color:#020817;letter-spacing:1.292px;-webkit-text-stroke:0.3px #020817;">226</span>
<span class="t" style="left:109.10px;top:1617.57px;font-size:12.12px;line-height:14px;color:#fff;letter-spacing:0.391px;-webkit-text-stroke:0.32px #fff;">Four-Seam</span>
<span class="t" style="left:1001.04px;top:1616.17px;font-size:14.42px;line-height:16px;color:#020817;letter-spacing:0.485px;">86.8</span>
<span class="t" style="left:1437.45px;top:1616.17px;font-size:14.42px;line-height:16px;color:#020817;letter-spacing:0.010px;">2120</span>
<span class="t" style="left:1942.74px;top:1616.17px;font-size:14.42px;line-height:16px;color:#020817;letter-spacing:0.486px;">5.6</span>
<span class="t" style="left:2414.94px;top:1616.17px;font-size:14.42px;line-height:16px;color:#020817;letter-spacing:0.613px;">-23.9</span>
<span class="t" style="left:2930.34px;top:1616.17px;font-size:14.42px;line-height:16px;color:#020817;letter-spacing:-0.850px;">13.1</span>
<span class="t" style="left:26.86px;top:1668.00px;font-size:14.42px;line-height:16px;color:#64748b;letter-spacing:-0.182px;">Page 1 of 3</span>
<span class="t" style="left:2810.17px;top:1667.70px;font-size:14.14px;line-height:16px;color:#80838b;letter-spacing:0.285px;-webkit-text-stroke:0.3px #80838b;">Previous</span>
<span class="t" style="left:2897.37px;top:1667.70px;font-size:14.14px;line-height:16px;color:#020817;letter-spacing:0.571px;-webkit-text-stroke:0.3px #020817;">Next</span>
<span class="t" style="left:2855.37px;top:1725.80px;font-size:14.14px;line-height:16px;color:#fff;letter-spacing:0.211px;-webkit-text-stroke:0.3px #fff;">Delete Session</span>
</div>
</body></html>
